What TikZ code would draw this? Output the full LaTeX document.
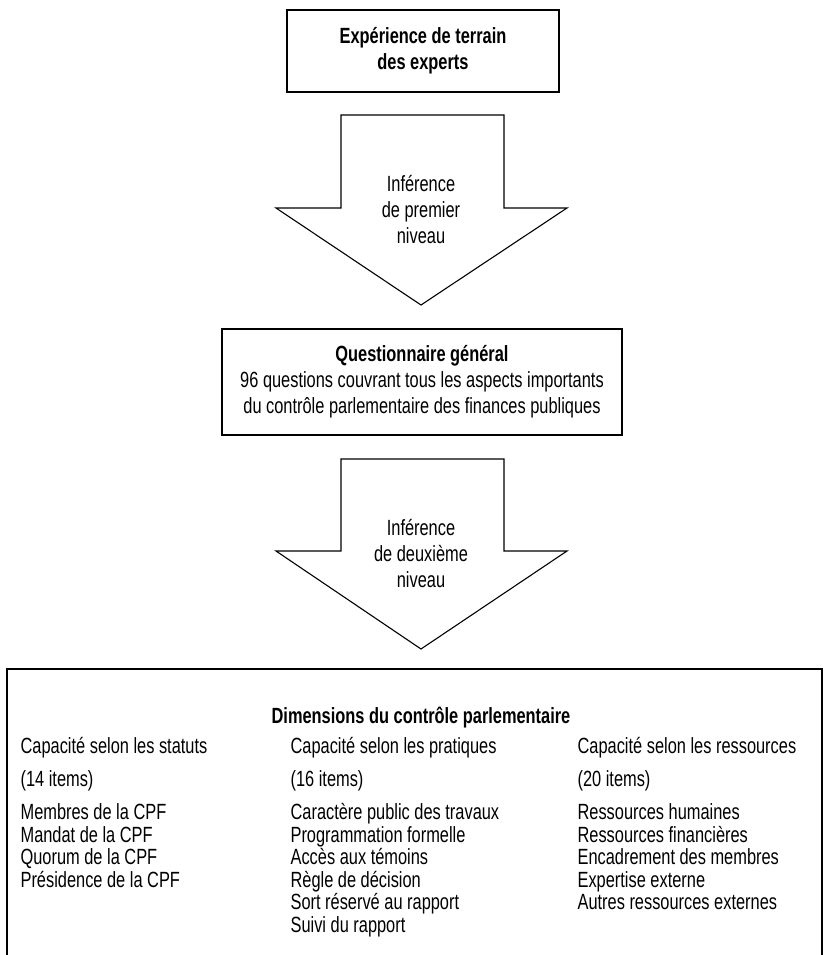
\documentclass[tikz,border=0pt]{standalone}
\usepackage{fontspec}
\setmainfont{Liberation Sans}[FakeStretch=0.745]
\begin{document}
\begin{tikzpicture}[x=1pt,y=-1pt,
  line width=1.2pt,
  txt/.style={font=\fontsize{22}{26}\selectfont, align=center, inner sep=0pt},
  itm/.style={font=\fontsize{22}{22.5}\selectfont, align=left, anchor=north west, inner sep=0pt},
  bigarrow/.style={draw=black, fill=white, line width=1.1pt, line join=miter}]
\useasboundingbox (0,0) rectangle (830,955);
% Box 1
\node[draw, minimum width=272pt, minimum height=82pt, inner sep=0pt] (b1) at (423,51) {};
\node[txt] (t1) at (b1.center) {\textbf{Expérience de terrain}\\\textbf{des experts}};
% Arrow 1
\draw[bigarrow] (341,115) coordinate (a1) -- (504,115) -- (504,208) -- (567,208) -- (421,305) coordinate (tip1) -- (276,208) -- (341,208) -- cycle;
\node[txt] (t2) at (421,210) {Inférence\\de premier\\niveau};
% Box 2
\node[draw, minimum width=400pt, minimum height=106pt, inner sep=0pt] (b2) at (422,382) {};
\node[txt] (t3) at (b2.center) {\textbf{Questionnaire général}\\96 questions couvrant tous les aspects importants\\du contrôle parlementaire des finances publiques};
% Arrow 2
\draw[bigarrow] (341,459) coordinate (a2) -- (504,459) -- (504,551) -- (567,551) -- (421,649) coordinate (tip2) -- (276,551) -- (341,551) -- cycle;
\node[txt] (t4) at (421,554) {Inférence\\de deuxième\\niveau};
% Box 3
\draw (7,960) coordinate (c1) -- (7,669) coordinate (c2) -- (822,669) coordinate (c3) -- (822,960) coordinate (c4);
\node[txt] (t5) at (421,718) {\textbf{Dimensions du contrôle parlementaire}};
\node[itm] (h1) at (20,737) {Capacité selon les statuts};
\node[itm] (h2) at (290,737) {Capacité selon les pratiques};
\node[itm] (h3) at (577,737) {Capacité selon les ressources};
\node[itm] (n1) at (20,770) {(14 items)};
\node[itm] (n2) at (290,770) {(16 items)};
\node[itm] (n3) at (577,770) {(20 items)};
\node[itm] (l1) at (20,803) {Membres de la CPF\\Mandat de la CPF\\Quorum de la CPF\\Présidence de la CPF};
\node[itm] (l2) at (290,803) {Caractère public des travaux\\Programmation formelle\\Accès aux témoins\\Règle de décision\\Sort réservé au rapport\\Suivi du rapport};
\node[itm] (l3) at (577,803) {Ressources humaines\\Ressources financières\\Encadrement des membres\\Expertise externe\\Autres ressources externes};
\end{tikzpicture}
\end{document}
